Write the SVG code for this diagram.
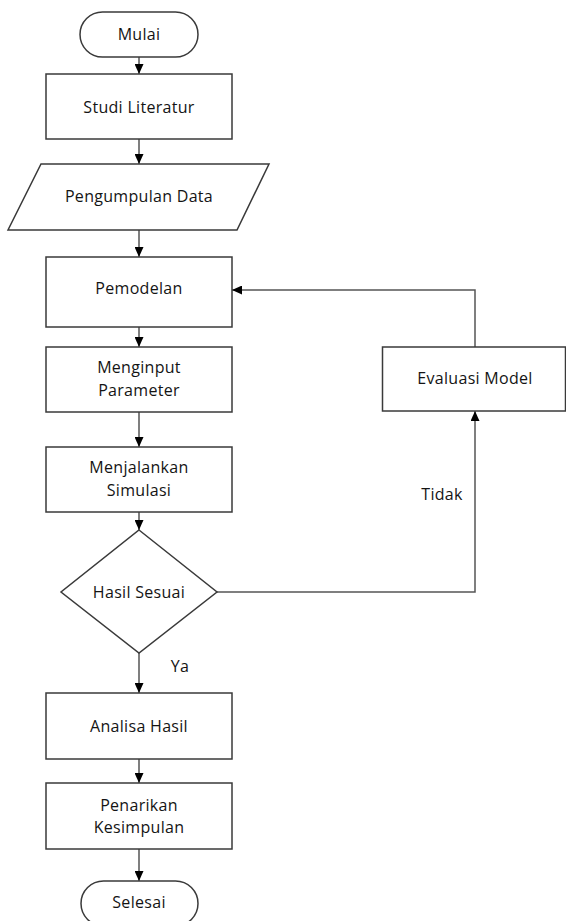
<svg xmlns="http://www.w3.org/2000/svg" width="566" height="921" viewBox="0 0 566 921">
<style>
.n{fill:#fff;stroke:#3a3a3a;stroke-width:1.5}
.t{font-family:"Open Sans","Liberation Sans",sans-serif;font-size:16px;letter-spacing:0.3px;fill:#141414;text-anchor:middle}
.c{fill:none;stroke:#555;stroke-width:1.5}
</style>
<defs>
<marker id="ah" markerUnits="userSpaceOnUse" markerWidth="11" markerHeight="9" refX="10" refY="4.5" orient="auto">
<path d="M0,0 L10,4.5 L0,9 z" fill="#000"/>
</marker>
</defs>
<rect width="566" height="921" fill="#fff"/>
<g id="connectors">
<line class="c" x1="139" y1="57" x2="139" y2="74" marker-end="url(#ah)"/>
<line class="c" x1="139" y1="139" x2="139" y2="164" marker-end="url(#ah)"/>
<line class="c" x1="139" y1="230" x2="139" y2="257" marker-end="url(#ah)"/>
<line class="c" x1="139" y1="327" x2="139" y2="347" marker-end="url(#ah)"/>
<line class="c" x1="139" y1="412" x2="139" y2="447" marker-end="url(#ah)"/>
<line class="c" x1="139" y1="512" x2="139" y2="530" marker-end="url(#ah)"/>
<line class="c" x1="139" y1="653" x2="139" y2="693" marker-end="url(#ah)"/>
<line class="c" x1="139" y1="759" x2="139" y2="783" marker-end="url(#ah)"/>
<line class="c" x1="139" y1="849" x2="139" y2="881" marker-end="url(#ah)"/>
<polyline class="c" points="475,347 475,290 232,290" marker-end="url(#ah)"/>
<polyline class="c" points="217,592 475,592 475,411" marker-end="url(#ah)"/>
<text class="t" x="442" y="500">Tidak</text>
<text class="t" x="180" y="672">Ya</text>
</g>
<g id="mulai"><rect class="n" x="80" y="12" width="118" height="45" rx="22.5"/><text class="t" x="139" y="40">Mulai</text></g>
<g id="studi"><rect class="n" x="46" y="74" width="186" height="65"/><text class="t" x="139" y="113">Studi Literatur</text></g>
<g id="pengumpulan"><polygon class="n" points="41,164 269,164 237,230 8,230"/><text class="t" x="139" y="202">Pengumpulan Data</text></g>
<g id="pemodelan"><rect class="n" x="46" y="257" width="186" height="70"/><text class="t" x="139" y="294">Pemodelan</text></g>
<g id="menginput"><rect class="n" x="46" y="347" width="186" height="65"/><text class="t" x="139" y="373">Menginput</text><text class="t" x="139" y="396">Parameter</text></g>
<g id="menjalankan"><rect class="n" x="46" y="447" width="186" height="65"/><text class="t" x="139" y="473">Menjalankan</text><text class="t" x="139" y="496">Simulasi</text></g>
<g id="hasil"><polygon class="n" points="139,530 217,592 139,653 61,592"/><text class="t" x="139" y="598">Hasil Sesuai</text></g>
<g id="analisa"><rect class="n" x="46" y="693" width="186" height="66"/><text class="t" x="139" y="732">Analisa Hasil</text></g>
<g id="penarikan"><rect class="n" x="46" y="783" width="186" height="66"/><text class="t" x="139" y="811">Penarikan</text><text class="t" x="139" y="833">Kesimpulan</text></g>
<g id="selesai"><rect class="n" x="81" y="881" width="117" height="45" rx="22.5"/><text class="t" x="139" y="908">Selesai</text></g>
<g id="evaluasi"><rect class="n" x="382.5" y="347" width="183" height="64"/><text class="t" x="475" y="384">Evaluasi Model</text></g>
</svg>
